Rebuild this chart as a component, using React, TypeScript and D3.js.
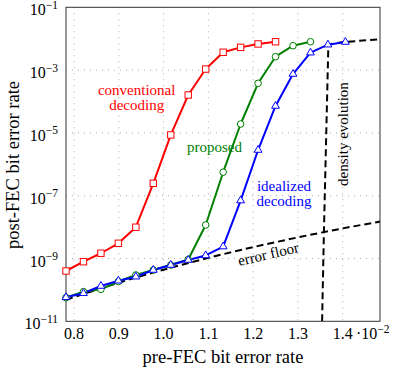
import React from "react";
import * as d3 from "d3";

const W = 403;
const H = 368;

// pre-FEC BER (x 1e-2) sample positions
const xPoints = [0.782, 0.821, 0.860, 0.899, 0.938, 0.977, 1.016, 1.055, 1.094, 1.133, 1.172, 1.211, 1.250, 1.289, 1.328, 1.367, 1.406];

const conventional = [4.0e-10, 7.9e-10, 1.47e-9, 3.05e-9, 9.9e-9, 2.48e-7, 8.6e-6, 1.61e-4, 1.08e-3, 3.7e-3, 5.3e-3, 6.8e-3, 8.0e-3];
const proposed = [5.7e-11, 8.8e-11, 1.04e-10, 1.85e-10, 2.99e-10, 4.3e-10, 6.2e-10, 9.3e-10, 1.17e-8, 5.6e-7, 1.92e-5, 3.8e-4, 2.67e-3, 5.98e-3, 8.0e-3];
const idealized = [5.8e-11, 7.8e-11, 1.33e-10, 1.96e-10, 2.63e-10, 4.3e-10, 6.2e-10, 8.95e-10, 1.25e-9, 2.4e-9, 7.0e-8, 2.85e-6, 7.2e-5, 7.5e-4, 3.58e-3, 6.44e-3, 7.85e-3];

const floorX = [0.782, 0.9, 1.0, 1.1, 1.2, 1.3, 1.4, 1.484];
const floorY = [4.8e-11, 1.7e-10, 4.4e-10, 1.05e-9, 2.3e-9, 4.7e-9, 9.1e-9, 1.5e-8];

const deX = [1.354, 1.358, 1.368, 1.406, 1.484];
const deY = [1e-11, 6.8e-9, 6.6e-3, 7.9e-3, 9.6e-3];

const xTicks = [0.8, 0.9, 1.0, 1.1, 1.2, 1.3, 1.4];
const xTickLabels = ["0.8", "0.9", "1.0", "1.1", "1.2", "1.3", "1.4"];
const yTickExps = [-1, -3, -5, -7, -9, -11];

const FONT = "'Liberation Serif', 'Times New Roman', serif";
const RED = "#ff0000";
const GREEN = "#008000";
const BLUE = "#0000ff";

const L = 66, R = 380, T = 7.3, B = 321.3;

export default function App() {
  const x = d3.scaleLinear().domain([0.782, 1.4833]).range([L, R]);
  const y = d3.scaleLog().domain([1e-11, 1e-1]).range([B, T]);

  const line = d3.line<[number, number]>().x(d => x(d[0])).y(d => y(d[1]));
  const smooth = d3.line<[number, number]>().x(d => x(d[0])).y(d => y(d[1])).curve(d3.curveMonotoneX);

  const pts = (vals: number[]) => vals.map((v, i) => [xPoints[i], v] as [number, number]);
  const redPts = pts(conventional);
  const greenPts = pts(proposed);
  const bluePts = pts(idealized);
  const floorPts = floorX.map((v, i) => [v, floorY[i]] as [number, number]);
  const dePts = deX.map((v, i) => [v, deY[i]] as [number, number]);

  const tri = (cx: number, cy: number, s: number) => {
    const h = s * Math.sqrt(3) / 2;
    return `M${cx},${cy - h * 2 / 3}L${cx + s / 2},${cy + h / 3}L${cx - s / 2},${cy + h / 3}Z`;
  };

  return (
    <svg width={W} height={H} style={{ position: "absolute", left: 0, top: 0, background: "#fff" }} fontFamily={FONT}>
      <defs>
        <clipPath id="plotclip">
          <rect x={L} y={T} width={R - L} height={B - T} />
        </clipPath>
      </defs>
      <rect x={0} y={0} width={W} height={H} fill="#fff" />
      {/* grid */}
      <g stroke="#aaa" strokeWidth={1} strokeDasharray="1 5">
        {xTicks.map((t, i) => (
          <line key={"gx" + i} x1={x(t)} x2={x(t)} y1={T} y2={B} />
        ))}
        {yTickExps.filter(e => e !== -1 && e !== -11).map((e, i) => (
          <line key={"gy" + i} x1={L} x2={R} y1={y(Math.pow(10, e))} y2={y(Math.pow(10, e))} />
        ))}
      </g>
      {/* black reference curves */}
      <g clipPath="url(#plotclip)" fill="none" stroke="#000" strokeWidth={2} strokeDasharray="7 4">
        <path d={smooth(floorPts) || ""} />
        <path d={line(dePts) || ""} />
      </g>
      {/* series lines */}
      <g clipPath="url(#plotclip)" fill="none" strokeWidth={2} strokeLinejoin="round">
        <path d={line(redPts) || ""} stroke={RED} />
        <path d={line(greenPts) || ""} stroke={GREEN} />
        <path d={line(bluePts) || ""} stroke={BLUE} />
      </g>
      {/* frame */}
      <rect x={L} y={T} width={R - L} height={B - T} fill="none" stroke="#333" strokeWidth={1} />
      {/* markers */}
      <g fill="#fff" strokeWidth={1}>
        {redPts.map((d, i) => (
          <rect key={"r" + i} x={x(d[0]) - 3.2} y={y(d[1]) - 3.2} width={6.4} height={6.4} stroke={RED} />
        ))}
        {greenPts.map((d, i) => (
          <circle key={"g" + i} cx={x(d[0])} cy={y(d[1])} r={3.3} stroke={GREEN} />
        ))}
        {bluePts.map((d, i) => (
          <path key={"b" + i} d={tri(x(d[0]), y(d[1]), 7.8)} stroke={BLUE} />
        ))}
      </g>
      {/* x tick labels */}
      <g fontSize={16} textAnchor="middle" fill="#000">
        {xTicks.map((t, i) => (
          <text key={"xt" + i} x={x(t)} y={339}>{xTickLabels[i]}</text>
        ))}
      </g>
      <text x={356} y={339} fontSize={16} fill="#000">
        {"·10"}
        <tspan dy={-6.5} fontSize={11.5}>{"−2"}</tspan>
      </text>
      {/* y tick labels */}
      <g fontSize={16} textAnchor="end" fill="#000">
        {yTickExps.map((e, i) => (
          <text key={"yt" + i} x={58} y={y(Math.pow(10, e)) + 8}>
            {"10"}
            <tspan dy={-6.5} fontSize={11.5}>{"−" + Math.abs(e)}</tspan>
          </text>
        ))}
      </g>
      {/* axis labels */}
      <text x={(L + R) / 2} y={363} fontSize={18.5} textAnchor="middle" fill="#000">pre-FEC bit error rate</text>
      <text transform="translate(18.5,165) rotate(-90)" fontSize={18.5} textAnchor="middle" fill="#000">post-FEC bit error rate</text>
      {/* annotations */}
      <g fontSize={15} textAnchor="middle">
        <text x={136.7} y={94.5} fill={RED}>conventional</text>
        <text x={136.7} y={110} fill={RED}>decoding</text>
        <text x={214.5} y={152.3} fill={GREEN}>proposed</text>
        <text x={284} y={190.5} fill={BLUE}>idealized</text>
        <text x={284} y={206} fill={BLUE}>decoding</text>
        <text transform="translate(348,134) rotate(-90)" fill="#000">density evolution</text>
        <text transform="translate(269.5,259) rotate(-13.2)" fill="#000">error floor</text>
      </g>
    </svg>
  );
}
